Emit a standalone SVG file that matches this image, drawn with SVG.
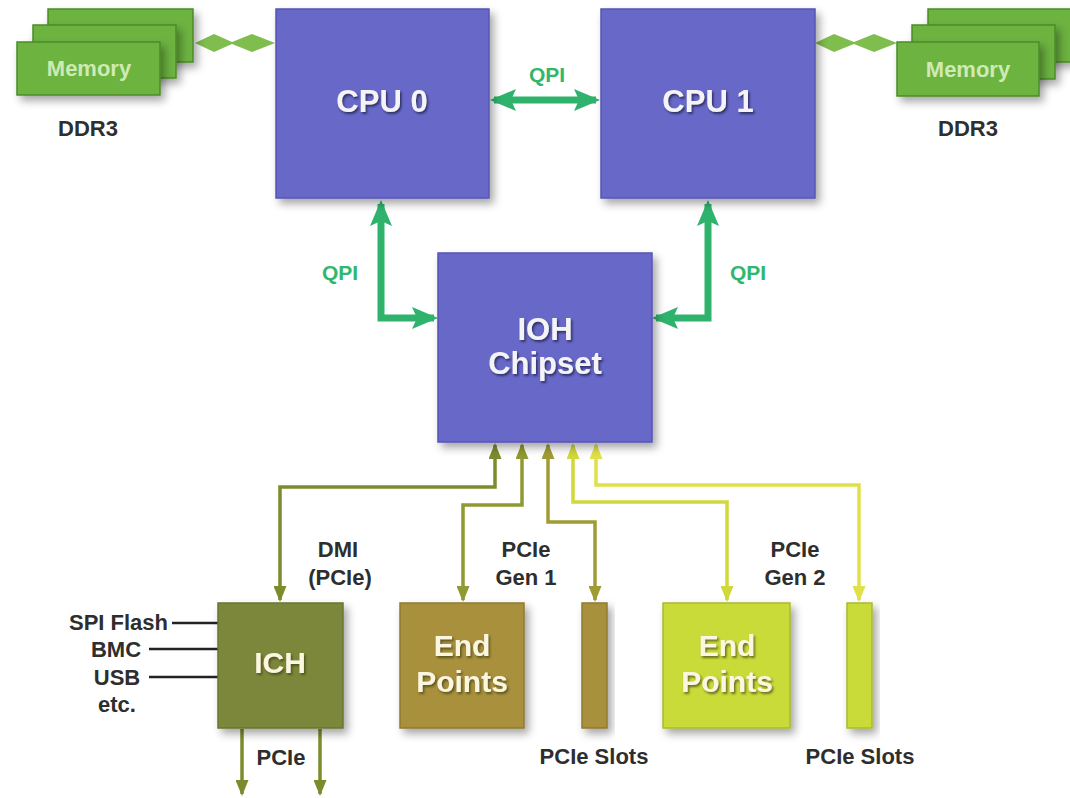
<svg xmlns="http://www.w3.org/2000/svg" width="1070" height="798" viewBox="0 0 1070 798">
<style>
.t{font-family:"Liberation Sans",Arial,sans-serif;font-weight:bold;text-anchor:middle}
.title{font-size:31px;fill:#f4f4f8;filter:url(#ts)}
.ttl2{font-size:30px;fill:#fbf6df;filter:url(#ts2)}
.lbl{font-size:22px;fill:#2e2e2e}
.qpi{font-size:21px;fill:#2fb86c}
.mem{font-size:22px;fill:#cfeab4}
.cpu{fill:#6767c9;stroke:#5656b4;stroke-width:1.5;filter:url(#ds)}
.membox{fill:#6cb33f;stroke:#4b8c28;stroke-width:1.5;filter:url(#ds)}
.q{fill:none;stroke:#2fb36c;stroke-width:7}
.c{fill:none;stroke-width:3.5}
.side{stroke:#222;stroke-width:2.5}
</style>
<defs>
<filter id="ds" x="-20%" y="-20%" width="150%" height="150%">
<feDropShadow dx="4" dy="5" stdDeviation="4" flood-color="#000" flood-opacity="0.35"/>
</filter>
<filter id="ts" x="-20%" y="-30%" width="140%" height="170%">
<feDropShadow dx="1.5" dy="2" stdDeviation="1.2" flood-color="#22224a" flood-opacity="0.8"/>
</filter>
<filter id="ts2" x="-20%" y="-30%" width="140%" height="170%">
<feDropShadow dx="1.5" dy="2" stdDeviation="1.2" flood-color="#3a3a10" flood-opacity="0.7"/>
</filter>
<marker id="mq" markerUnits="userSpaceOnUse" markerWidth="26" markerHeight="22" refX="22" refY="11" orient="auto-start-reverse"><path d="M0,0 L26,11 L0,22 L5,11 z" fill="#2fb36c"/></marker>
<marker id="m1" markerUnits="userSpaceOnUse" markerWidth="16" markerHeight="13" refX="14" refY="6.5" orient="auto-start-reverse"><path d="M0,0 L16,6.5 L0,13 z" fill="#7c8c2c"/></marker>
<marker id="m2" markerUnits="userSpaceOnUse" markerWidth="16" markerHeight="13" refX="14" refY="6.5" orient="auto-start-reverse"><path d="M0,0 L16,6.5 L0,13 z" fill="#909a30"/></marker>
<marker id="m3" markerUnits="userSpaceOnUse" markerWidth="16" markerHeight="13" refX="14" refY="6.5" orient="auto-start-reverse"><path d="M0,0 L16,6.5 L0,13 z" fill="#a09c34"/></marker>
<marker id="m4" markerUnits="userSpaceOnUse" markerWidth="16" markerHeight="13" refX="14" refY="6.5" orient="auto-start-reverse"><path d="M0,0 L16,6.5 L0,13 z" fill="#d0d83a"/></marker>
<marker id="m5" markerUnits="userSpaceOnUse" markerWidth="16" markerHeight="13" refX="14" refY="6.5" orient="auto-start-reverse"><path d="M0,0 L16,6.5 L0,13 z" fill="#e0e048"/></marker>
<marker id="mi" markerUnits="userSpaceOnUse" markerWidth="16" markerHeight="13" refX="14" refY="6.5" orient="auto"><path d="M0,0 L16,6.5 L0,13 z" fill="#7c8c2c"/></marker>
</defs>
<rect width="1070" height="798" fill="#ffffff"/>

<g id="connectors">
<path d="M195,43 L214,34 L232,42 L252,34 L275,43 L252,52 L232,44 L214,52 Z" fill="#7fbe4e"/>
<path d="M815,43 L834,34 L854,42 L874,34 L897,43 L874,52 L854,44 L834,52 Z" fill="#7fbe4e"/>
<path class="q" d="M494,100 H596" marker-start="url(#mq)" marker-end="url(#mq)"/>
<path class="q" d="M381,204 V318 H434" marker-start="url(#mq)" marker-end="url(#mq)"/>
<path class="q" d="M708,204 V318 H656" marker-start="url(#mq)" marker-end="url(#mq)"/>
<path class="c" stroke="#7c8c2c" d="M495,445 V487 H280 V600" marker-start="url(#m1)" marker-end="url(#m1)"/>
<path class="c" stroke="#909a30" d="M522,445 V505 H463 V600" marker-start="url(#m2)" marker-end="url(#m2)"/>
<path class="c" stroke="#a09c34" d="M548,445 V522 H595 V600" marker-start="url(#m3)" marker-end="url(#m3)"/>
<path class="c" stroke="#d0d83a" d="M573,445 V502 H727 V600" marker-start="url(#m4)" marker-end="url(#m4)"/>
<path class="c" stroke="#e0e048" d="M596,445 V485 H859 V600" marker-start="url(#m5)" marker-end="url(#m5)"/>
<line class="side" x1="172" y1="623" x2="218" y2="623"/>
<line class="side" x1="149" y1="649" x2="218" y2="649"/>
<line class="side" x1="149" y1="677" x2="218" y2="677"/>
<path class="c" stroke="#7c8c2c" d="M242,729 V794" marker-end="url(#mi)"/>
<path class="c" stroke="#7c8c2c" d="M320,729 V794" marker-end="url(#mi)"/>
</g>

<g id="mem0">
<rect class="membox" x="48" y="9" width="145" height="53"/>
<rect class="membox" x="33" y="25" width="143" height="53"/>
<rect class="membox" x="17" y="42" width="143" height="53"/>
<text class="t mem" x="89" y="76">Memory</text>
<text class="t lbl" x="88" y="136">DDR3</text>
</g>
<g id="mem1">
<rect class="membox" x="928" y="9" width="145" height="53"/>
<rect class="membox" x="912" y="25" width="143" height="54"/>
<rect class="membox" x="897" y="42" width="142" height="54"/>
<text class="t mem" x="968" y="77">Memory</text>
<text class="t lbl" x="968" y="136">DDR3</text>
</g>

<g id="cpu0">
<rect class="cpu" x="276" y="9" width="213" height="189"/>
<text class="t title" x="382" y="112">CPU 0</text>
</g>
<g id="cpu1">
<rect class="cpu" x="601" y="9" width="214" height="189"/>
<text class="t title" x="708" y="112">CPU 1</text>
</g>
<g id="ioh">
<rect class="cpu" x="438" y="253" width="214" height="189"/>
<text class="t title" x="545" y="340">IOH</text>
<text class="t title" x="545" y="374">Chipset</text>
</g>

<g id="qpi-labels">
<text class="t qpi" x="547" y="82">QPI</text>
<text class="t qpi" x="340" y="280">QPI</text>
<text class="t qpi" x="748" y="280">QPI</text>
</g>

<g id="ich">
<rect x="218" y="603" width="125" height="125" fill="#7b873a" stroke="#6a7530" stroke-width="1.5" filter="url(#ds)"/>
<text class="t ttl2" x="280" y="673">ICH</text>
<text class="t lbl" x="168" y="630" style="text-anchor:end">SPI Flash</text>
<text class="t lbl" x="116" y="657">BMC</text>
<text class="t lbl" x="117" y="685">USB</text>
<text class="t lbl" x="117" y="712">etc.</text>
<text class="t lbl" x="281" y="765">PCIe</text>
</g>

<g id="ep1">
<rect x="400" y="603" width="124" height="125" fill="#a8903d" stroke="#8f7a30" stroke-width="1.5" filter="url(#ds)"/>
<text class="t ttl2" x="462" y="656">End</text>
<text class="t ttl2" x="462" y="692">Points</text>
</g>
<g id="slot1">
<rect x="582" y="603" width="25" height="125" fill="#a8903d" stroke="#8f7a30" stroke-width="1.5" filter="url(#ds)"/>
<text class="t lbl" x="594" y="764">PCIe Slots</text>
</g>
<g id="ep2">
<rect x="663" y="603" width="127" height="125" fill="#c8db38" stroke="#aabb2c" stroke-width="1.5" filter="url(#ds)"/>
<text class="t ttl2" x="727" y="656">End</text>
<text class="t ttl2" x="727" y="692">Points</text>
</g>
<g id="slot2">
<rect x="847" y="603" width="25" height="125" fill="#c8db38" stroke="#aabb2c" stroke-width="1.5" filter="url(#ds)"/>
<text class="t lbl" x="860" y="764">PCIe Slots</text>
</g>

<g id="bus-labels">
<text class="t lbl" x="338" y="557">DMI</text>
<text class="t lbl" x="340" y="585">(PCIe)</text>
<text class="t lbl" x="526" y="557">PCIe</text>
<text class="t lbl" x="526" y="585">Gen 1</text>
<text class="t lbl" x="795" y="557">PCIe</text>
<text class="t lbl" x="795" y="585">Gen 2</text>
</g>
</svg>
